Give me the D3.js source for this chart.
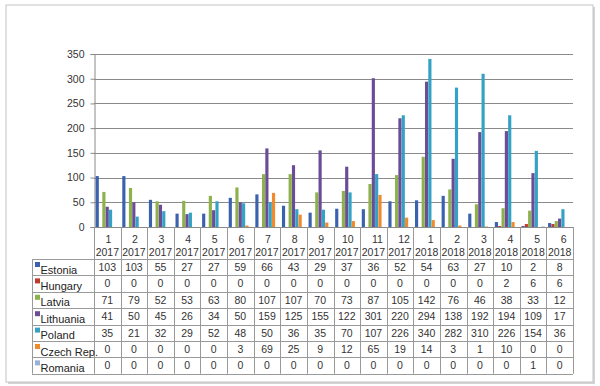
<!DOCTYPE html>
<html><head><meta charset="utf-8">
<script src="https://cdn.jsdelivr.net/npm/d3@7"></script>
<style>body{margin:0;background:#fff}svg{display:block}</style>
</head><body><svg id="c" width="600" height="386"></svg>
<script>
const months = ["1","2","3","4","5","6","7","8","9","10","11","12","1","2","3","4","5","6"];
const years = ["2017","2017","2017","2017","2017","2017","2017","2017","2017","2017","2017","2017","2018","2018","2018","2018","2018","2018"];
const seriesNames = ["Estonia","Hungary","Latvia","Lithuania","Poland","Czech Rep.","Romania"];
const colors = ["#3a62ad","#c0392f","#8db24c","#6b4c96","#33a2c4","#f08a2c","#97b2da"];
const estonia   = [103,103,55,27,27,59,66,43,29,37,36,52,54,63,27,10,2,8];
const hungary   = [0,0,0,0,0,0,0,0,0,0,0,0,0,0,0,2,6,6];
const latvia    = [71,79,52,53,63,80,107,107,70,73,87,105,142,76,46,38,33,12];
const lithuania = [41,50,45,26,34,50,159,125,155,122,301,220,294,138,192,194,109,17];
const poland    = [35,21,32,29,52,48,50,36,35,70,107,226,340,282,310,226,154,36];
const czech     = [0,0,0,0,0,3,69,25,9,12,65,19,14,3,1,10,0,0];
const romania   = [0,0,0,0,0,0,0,0,0,0,0,0,0,0,0,0,1,0];
const yTicks = [0,50,100,150,200,250,300,350];
const allSeries = [estonia,hungary,latvia,lithuania,poland,czech,romania];

const svg = d3.select("#c");
// frame
svg.append("rect").attr("x",8).attr("y",7).attr("width",587).attr("height",377).attr("fill","#d4d4d4");
svg.append("rect").attr("x",6).attr("y",5).attr("width",587).attr("height",377).attr("fill","#fff").attr("stroke","#c4c4c4");

const x0 = 94, x1 = 573, yBase = 227, yTop = 54;
const idx = d3.range(months.length);
const x = d3.scaleBand().domain(idx).range([x0,x1]).paddingInner(0).paddingOuter(0);
const xs = d3.scaleBand().domain(d3.range(seriesNames.length)).range([0,x.bandwidth()]).paddingInner(0).paddingOuter(0.5);
const y = d3.scaleLinear().domain([0,350]).range([yBase,yTop]);

// gridlines
svg.append("g").selectAll("line").data(yTicks).join("line")
  .attr("x1",x0).attr("x2",x1).attr("y1",d=>Math.round(y(d))+0.5).attr("y2",d=>Math.round(y(d))+0.5)
  .attr("stroke","#8a8a8a").attr("stroke-width",1.2);
// y axis
const ya = svg.append("g").attr("transform",`translate(${x0+0.5},0)`)
  .call(d3.axisLeft(y).tickValues(yTicks).tickSize(4).tickPadding(6));
ya.select(".domain").attr("stroke","#8a8a8a");
ya.selectAll(".tick line").attr("stroke","#8a8a8a");
ya.selectAll("text").attr("font-family","Liberation Sans, Arial").attr("font-size",10.5).attr("fill","#333");

// bars
const bars = svg.append("g");
allSeries.forEach((s,si)=>{
  bars.selectAll(null).data(s.map((v,i)=>({v,i})).filter(d=>d.v>0)).join("rect")
    .attr("x",d=>x(d.i)+xs(si))
    .attr("width",xs.bandwidth()*0.95)
    .attr("y",d=>y(d.v))
    .attr("height",d=>yBase-y(d.v))
    .attr("fill",colors[si]);
});
// baseline
svg.append("line").attr("x1",x0).attr("x2",x1).attr("y1",yBase+0.5).attr("y2",yBase+0.5).attr("stroke","#8a8a8a");

// table
const rowTop = 259, rowH = 16.4, nRows = seriesNames.length, tableLeft = 32;
const gridC = "#9a9a9a";
const tg = svg.append("g");
idx.concat([months.length]).forEach(i=>{
  const xx = (i<months.length? x(i): x1);
  tg.append("line").attr("x1",Math.round(xx)+0.5).attr("x2",Math.round(xx)+0.5)
    .attr("y1",yBase).attr("y2",rowTop+rowH*nRows).attr("stroke",gridC);
});
for(let r=0;r<=nRows;r++){
  const yy = Math.round(rowTop+r*rowH)+0.5;
  tg.append("line").attr("x1",tableLeft).attr("x2",x1).attr("y1",yy).attr("y2",yy).attr("stroke",gridC);
}
tg.append("line").attr("x1",tableLeft+0.5).attr("x2",tableLeft+0.5).attr("y1",rowTop).attr("y2",rowTop+rowH*nRows).attr("stroke",gridC);

// header text
const hdr = tg.append("g").attr("font-family","Liberation Sans, Arial").attr("font-size",10.5).attr("fill","#333").attr("text-anchor","middle");
hdr.selectAll(".m").data(idx).join("text").attr("class","m")
  .attr("x",i=>x(i)+x.bandwidth()/2+(i>=10?4:1)).attr("y",243).attr("fill","#333").text(i=>months[i]);
hdr.selectAll(".yr").data(idx).join("text").attr("class","yr")
  .attr("x",i=>x(i)+x.bandwidth()/2).attr("y",256).attr("fill","#333").text(i=>years[i]);

// values
allSeries.forEach((s,si)=>{
  const cy = rowTop+si*rowH;
  tg.append("g").selectAll("text").data(s).join("text")
    .attr("x",(d,i)=>x(i)+x.bandwidth()/2).attr("y",cy+12)
    .attr("text-anchor","middle").attr("font-family","Liberation Sans, Arial").attr("font-size",10.5)
    .attr("fill","#333").text(d=>d);
  tg.append("rect").attr("x",tableLeft+3).attr("y",cy+3).attr("width",5).attr("height",5).attr("fill",colors[si]);
  tg.append("text").attr("x",tableLeft+8.5).attr("y",cy+14.5).attr("font-family","Liberation Sans, Arial")
    .attr("font-size",11).attr("fill","#222").text(seriesNames[si]);
});
</script></body></html>
